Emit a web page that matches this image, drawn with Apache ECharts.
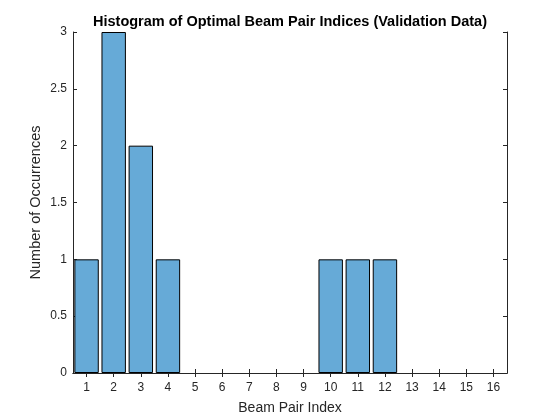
<!DOCTYPE html>
<html>
<head>
<meta charset="utf-8">
<script src="https://cdn.jsdelivr.net/npm/echarts@6/dist/echarts.min.js"></script>
<style>html,body{margin:0;padding:0;background:#fff}#c{width:560px;height:420px}</style>
</head>
<body>
<div id="c"></div>
<script>
const categories = ['1','2','3','4','5','6','7','8','9','10','11','12','13','14','15','16'];
const counts = [1,3,2,1,0,0,0,0,0,1,1,1,0,0,0,0];
const titleText = 'Histogram of Optimal Beam Pair Indices (Validation Data)';
const xName = 'Beam Pair Index';
const yName = 'Number of Occurrences';

const chart = echarts.init(document.getElementById('c'), null, {renderer: 'canvas'});
const font = 'Liberation Sans, Arial, Helvetica, sans-serif';
const axisLine = {show: true, lineStyle: {color: '#262626', width: 1}};
chart.setOption({
  animation: false,
  backgroundColor: '#ffffff',
  title: {
    text: titleText, left: 285, top: 9, textAlign: 'center',
    textStyle: {fontFamily: font, fontSize: 14.5, fontWeight: 'bold', color: '#000'}
  },
  grid: {left: 73, right: 53, top: 32, bottom: 47, containLabel: false},
  xAxis: [{
    type: 'category', data: categories, boundaryGap: true,
    name: xName, nameLocation: 'middle', nameGap: 28, nameMoveOverlap: false,
    nameTextStyle: {fontFamily: font, fontSize: 14, color: '#262626'},
    axisLine: axisLine,
    axisTick: {show: true, alignWithLabel: true, inside: true, length: 4, lineStyle: {color: '#262626'}},
    axisLabel: {fontFamily: font, fontSize: 12, color: '#262626', margin: 9, interval: 0},
    splitLine: {show: false}
  }, {
    type: 'category', data: categories, boundaryGap: true, position: 'top',
    axisLine: axisLine,
    axisTick: {show: true, alignWithLabel: true, inside: true, length: 4, lineStyle: {color: '#262626'}},
    axisLabel: {show: false}, splitLine: {show: false}
  }],
  yAxis: [{
    type: 'value', min: 0, max: 3, interval: 0.5,
    name: yName, nameLocation: 'middle', nameGap: 30, nameMoveOverlap: false,
    nameTextStyle: {fontFamily: font, fontSize: 14.5, color: '#262626'},
    axisLine: axisLine,
    axisTick: {show: true, inside: true, length: 4, lineStyle: {color: '#262626'}},
    axisLabel: {fontFamily: font, fontSize: 12, color: '#262626', margin: 6},
    splitLine: {show: false}
  }, {
    type: 'value', min: 0, max: 3, interval: 0.5, position: 'right',
    axisLine: axisLine,
    axisTick: {show: true, inside: true, length: 4, lineStyle: {color: '#262626'}},
    axisLabel: {show: false}, splitLine: {show: false}
  }],
  series: [{
    type: 'bar', data: counts.map(v => (v === 0 ? '-' : v)), xAxisIndex: 0, yAxisIndex: 0,
    barCategoryGap: '10%',
    itemStyle: {color: '#66aad7', borderColor: '#000', borderWidth: 1}
  }]
});
</script>
</body>
</html>
